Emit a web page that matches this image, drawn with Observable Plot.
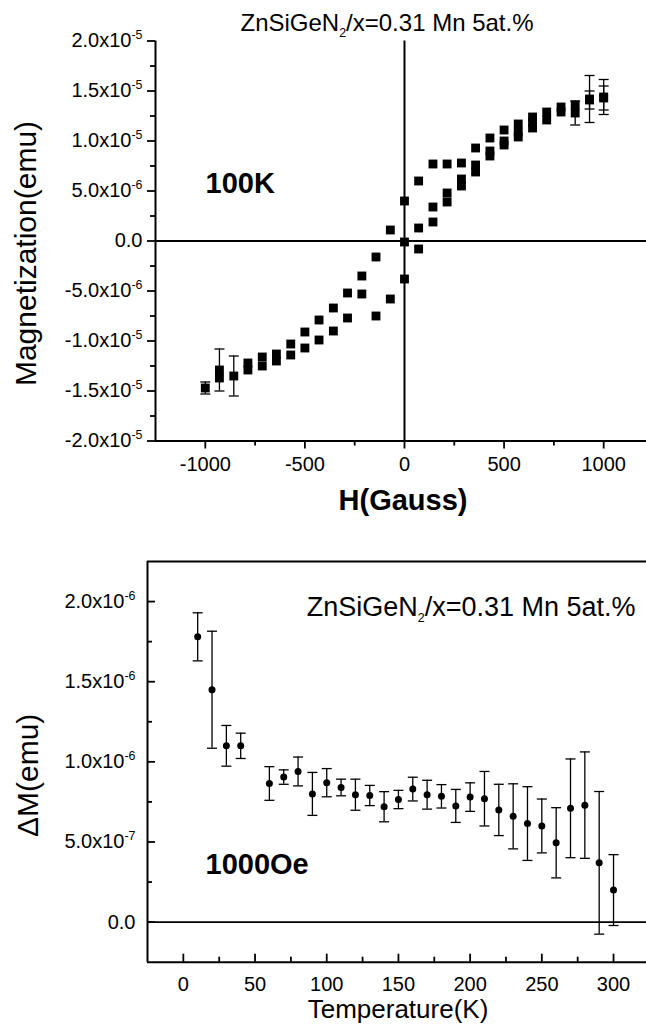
<!DOCTYPE html>
<html><head><meta charset="utf-8">
<script src="https://cdn.jsdelivr.net/npm/d3@7"></script>
<script src="https://cdn.jsdelivr.net/npm/@observablehq/plot@0.6"></script>
<style>
html,body{margin:0;padding:0;background:#fff;overflow:hidden;}
#wrap{width:646px;}
#wrap svg{display:block;max-width:none;}
</style></head><body><div id="wrap"></div>
<script>
const FONT = "'Liberation Sans', Arial, Helvetica, sans-serif";

// ---------- Top panel: hysteresis loop at 100K ----------
const topTitle = "ZnSiGeN_2/x=0.31 Mn 5at.%";
const fieldH = [
  -1000, -929, -929, -857, -786, -786, -714, -714, -643, -643, -571, -571, -500, -500,
  -429, -429, -357, -357, -286, -286, -214, -214, -143, -143, -71, -71,
  0, 0, 0, 71, 71, 71, 143, 143, 143, 214, 214, 214, 286, 286, 286,
  357, 357, 357, 429, 429, 429, 500, 500, 500, 571, 571, 571, 643, 643, 643,
  714, 714, 786, 786, 857, 857, 929, 929, 1000, 1000
];
const magnetization = [
  -14.7e-6, -12.9e-6, -13.7e-6, -13.5e-6, -12.2e-6, -12.9e-6, -11.6e-6, -12.5e-6, -11.3e-6, -12.0e-6, -10.3e-6, -11.4e-6, -9.1e-6, -10.7e-6,
  -7.9e-6, -9.9e-6, -6.7e-6, -9.0e-6, -5.2e-6, -7.7e-6, -3.5e-6, -5.3e-6, -1.6e-6, -7.5e-6, 1.1e-6, -5.8e-6,
  4.0e-6, -0.1e-6, -3.8e-6, 6.0e-6, 1.3e-6, -0.8e-6, 7.7e-6, 3.4e-6, 1.9e-6, 7.7e-6, 4.8e-6, 3.9e-6, 7.8e-6, 6.2e-6, 5.5e-6,
  9.3e-6, 7.6e-6, 6.9e-6, 10.3e-6, 9.0e-6, 8.5e-6, 11.1e-6, 10.0e-6, 9.6e-6, 11.7e-6, 10.9e-6, 10.4e-6, 12.4e-6, 11.9e-6, 11.3e-6,
  12.9e-6, 12.1e-6, 13.4e-6, 12.9e-6, 13.6e-6, 12.8e-6, 14.2e-6, 14.1e-6, 14.4e-6, 14.3e-6
];
const magnetErr = [
  0.6e-6, 2.1e-6, 0, 2.0e-6, 0, 0, 0, 0, 0, 0, 0, 0, 0, 0,
  0, 0, 0, 0, 0, 0, 0, 0, 0, 0, 0, 0,
  0, 0, 0, 0, 0, 0, 0, 0, 0, 0, 0, 0, 0, 0, 0,
  0, 0, 0, 0, 0, 0, 0, 0, 0, 0, 0, 0, 0, 0, 0,
  0, 0, 0, 0, 0, 1.2e-6, 2.35e-6, 0.9e-6, 1.75e-6, 1.2e-6
];
const topXTicks = [-1000, -500, 0, 500, 1000];
const topXTickLabels = ["-1000", "-500", "0", "500", "1000"];
const topXMinor = [-750, -250, 250, 750];
const topYTicks = [-2e-5, -1.5e-5, -1e-5, -5e-6, 0, 5e-6, 1e-5, 1.5e-5, 2e-5];
const topYTickLabels = ["-2.0x10^-5", "-1.5x10^-5", "-1.0x10^-5", "-5.0x10^-6", "0.0", "5.0x10^-6", "1.0x10^-5", "1.5x10^-5", "2.0x10^-5"];
const topYMinor = [-1.75e-5, -1.25e-5, -7.5e-6, -2.5e-6, 2.5e-6, 7.5e-6, 1.25e-5, 1.75e-5];

// ---------- Bottom panel: ΔM vs temperature at 1000 Oe ----------
const bottomNote = "ZnSiGeN_2/x=0.31 Mn 5at.%";
const temperature = [10, 20, 30, 40, 60, 70, 80, 90, 100, 110, 120, 130, 140, 150, 160, 170, 180, 190, 200, 210, 220, 230, 240, 250, 260, 270, 280, 290, 300];
const deltaM = [1.78e-6, 1.45e-6, 1.10e-6, 1.10e-6, 8.65e-7, 9.05e-7, 9.4e-7, 8.0e-7, 8.7e-7, 8.4e-7, 7.95e-7, 7.9e-7, 7.2e-7, 7.65e-7, 8.3e-7, 7.95e-7, 7.85e-7, 7.25e-7, 7.8e-7, 7.7e-7, 7.0e-7, 6.6e-7, 6.15e-7, 6.0e-7, 4.95e-7, 7.1e-7, 7.3e-7, 3.7e-7, 2.0e-7];
const deltaMErr = [1.5e-7, 3.65e-7, 1.27e-7, 0.79e-7, 1.05e-7, 0.45e-7, 0.9e-7, 1.34e-7, 0.88e-7, 0.52e-7, 0.97e-7, 0.63e-7, 0.94e-7, 0.57e-7, 0.74e-7, 0.9e-7, 0.73e-7, 1.03e-7, 0.89e-7, 1.7e-7, 1.6e-7, 2.03e-7, 2.3e-7, 1.68e-7, 2.19e-7, 3.08e-7, 3.32e-7, 4.45e-7, 2.21e-7];
const botXTicks = [0, 50, 100, 150, 200, 250, 300];
const botXTickLabels = ["0", "50", "100", "150", "200", "250", "300"];
const botXMinor = [25, 75, 125, 175, 225, 275];
const botYTicks = [0, 5e-7, 1e-6, 1.5e-6, 2e-6];
const botYTickLabels = ["0.0", "5.0x10^-7", "1.0x10^-6", "1.5x10^-6", "2.0x10^-6"];
const botYMinor = [2.5e-7, 7.5e-7, 1.25e-6, 1.75e-6];

// ---------- build tables ----------
const topData = fieldH.map((h, i) => ({h, m: magnetization[i], e: magnetErr[i]}));
const topErr = topData.filter(d => d.e > 0);
const botData = temperature.map((t, i) => ({t, m: deltaM[i], e: deltaMErr[i]}));
const fmt = (ticks, labels) => { const m = new Map(ticks.map((t, i) => [t, labels[i]])); return d => m.get(d) ?? ""; };
const capSymbol = {draw(ctx) { ctx.moveTo(-5, 0); ctx.lineTo(5, 0); }};

const baseStyle = {fontFamily: FONT, fontSize: "20px", color: "#000", background: "#fff", overflow: "visible"};

const topChart = Plot.plot({
  width: 646, height: 540,
  marginLeft: 155, marginRight: 0, marginTop: 40.5, marginBottom: 99.5,
  style: baseStyle,
  x: {domain: [-1250, 1215], axis: null},
  y: {domain: [-2e-5, 2e-5], axis: null},
  marks: [
    Plot.ruleY([0], {stroke: "#000", strokeWidth: 2}),
    Plot.ruleX([0], {stroke: "#000", strokeWidth: 2}),
    Plot.ruleX([-1250], {stroke: "#000", strokeWidth: 2}),
    Plot.ruleY([-2e-5], {stroke: "#000", strokeWidth: 2}),
    Plot.axisX({ticks: topXTicks, tickSize: 8, tickPadding: 8, strokeWidth: 1.8, tickFormat: fmt(topXTicks, topXTickLabels), label: null, fontSize: 20}),
    Plot.axisX({ticks: topXMinor, tickSize: 5, strokeWidth: 1.8, tickFormat: () => "", label: null}),
    Plot.axisY({ticks: topYTicks, tickSize: 8, tickPadding: 5, strokeWidth: 1.8, tickFormat: fmt(topYTicks, topYTickLabels), label: null, fontSize: 20}),
    Plot.axisY({ticks: topYMinor, tickSize: 5, strokeWidth: 1.8, tickFormat: () => "", label: null}),
    Plot.ruleX(topErr, {x: "h", y1: d => d.m - d.e, y2: d => d.m + d.e, stroke: "#000", strokeWidth: 1.3}),
    Plot.dot(topErr, {x: "h", y: d => d.m - d.e, symbol: capSymbol, stroke: "#000", strokeWidth: 1.3, fill: "none"}),
    Plot.dot(topErr, {x: "h", y: d => d.m + d.e, symbol: capSymbol, stroke: "#000", strokeWidth: 1.3, fill: "none"}),
    Plot.dot(topData, {x: "h", y: "m", symbol: "square", r: 5, fill: "#000", stroke: "none"}),
    Plot.text([topTitle], {frameAnchor: "top", dx: -14, dy: -18, lineAnchor: "middle", fontSize: 24}),
    Plot.text(["100K"], {frameAnchor: "top-left", dx: 50, dy: 142.5, lineAnchor: "middle", textAnchor: "start", fontSize: 29, fontWeight: "bold"}),
    Plot.text(["Magnetization(emu)"], {frameAnchor: "left", rotate: -90, dx: -129, dy: 12.5, textAnchor: "middle", lineAnchor: "middle", fontSize: 30}),
    Plot.text(["H(Gauss)"], {frameAnchor: "bottom", dx: 2, dy: 59.5, lineAnchor: "middle", textAnchor: "middle", fontSize: 29, fontWeight: "bold"})
  ]
});

const botPlotH = 490 - 21 - 68.3, botPlotW = 646 - 147;
const bottomChart = Plot.plot({
  width: 646, height: 490,
  marginLeft: 147, marginRight: 0, marginTop: 21, marginBottom: 68.3,
  style: baseStyle,
  x: {domain: [-25, 323], axis: null},
  y: {domain: [-2.5e-7, 2.25e-6], axis: null},
  marks: [
    Plot.ruleY([0], {stroke: "#000", strokeWidth: 1.8}),
    Plot.ruleX([-25], {stroke: "#000", strokeWidth: 2}),
    Plot.ruleY([-2.5e-7], {stroke: "#000", strokeWidth: 2}),
    Plot.ruleY([2.25e-6], {stroke: "#000", strokeWidth: 2}),
    Plot.tickX(botXTicks, {x: d => d, insetTop: botPlotH - 8, stroke: "#000", strokeWidth: 1.8}),
    Plot.tickX(botXMinor, {x: d => d, insetTop: botPlotH - 5, stroke: "#000", strokeWidth: 1.8}),
    Plot.tickY(botYTicks, {y: d => d, insetRight: botPlotW - 8, stroke: "#000", strokeWidth: 1.8}),
    Plot.tickY(botYMinor, {y: d => d, insetRight: botPlotW - 5, stroke: "#000", strokeWidth: 1.8}),
    Plot.axisX({ticks: botXTicks, tickSize: 0, tickPadding: 15, tickFormat: fmt(botXTicks, botXTickLabels), label: null, fontSize: 20}),
    Plot.axisY({ticks: botYTicks, tickSize: 0, tickPadding: 12, tickFormat: fmt(botYTicks, botYTickLabels), label: null, fontSize: 20}),
    Plot.ruleX(botData, {x: "t", y1: d => d.m - d.e, y2: d => d.m + d.e, stroke: "#000", strokeWidth: 1.3}),
    Plot.dot(botData, {x: "t", y: d => d.m - d.e, symbol: capSymbol, stroke: "#000", strokeWidth: 1.3, fill: "none"}),
    Plot.dot(botData, {x: "t", y: d => d.m + d.e, symbol: capSymbol, stroke: "#000", strokeWidth: 1.3, fill: "none"}),
    Plot.dot(botData, {x: "t", y: "m", r: 3.5, fill: "#000", stroke: "none"}),
    Plot.text([bottomNote], {frameAnchor: "top-right", dx: -11, dy: 45.5, lineAnchor: "middle", textAnchor: "end", fontSize: 27}),
    Plot.text(["1000Oe"], {frameAnchor: "top-left", dx: 58, dy: 303.5, lineAnchor: "middle", textAnchor: "start", fontSize: 29, fontWeight: "bold"}),
    Plot.text(["\u0394M(emu)"], {frameAnchor: "left", rotate: -90, dx: -119, dy: 13.5, textAnchor: "middle", lineAnchor: "middle", fontSize: 30}),
    Plot.text(["Temperature(K)"], {frameAnchor: "bottom", dx: 1, dy: 47.3, lineAnchor: "middle", textAnchor: "middle", fontSize: 26})
  ]
});

function richText(svg) {
  const NS = "http://www.w3.org/2000/svg";
  for (const t of svg.querySelectorAll("text")) {
    const s = t.textContent;
    if (!/[\^_]/.test(s)) continue;
    const fs = parseFloat(getComputedStyle(t).fontSize) || 20;
    const parts = s.split(/([\^_]-?\d+)/);
    t.textContent = "";
    let shift = 0;
    for (const p of parts) {
      if (!p) continue;
      const ts = document.createElementNS(NS, "tspan");
      let target = 0, txt = p;
      if (p[0] === "^") { target = -0.42 * fs; txt = p.slice(1); ts.setAttribute("font-size", (0.62 * fs).toFixed(1)); }
      else if (p[0] === "_") { target = 0.3 * fs; txt = p.slice(1); ts.setAttribute("font-size", (0.62 * fs).toFixed(1)); }
      ts.setAttribute("dy", (target - shift).toFixed(1));
      shift = target;
      ts.textContent = txt;
      t.appendChild(ts);
    }
  }
}
richText(topChart);
richText(bottomChart);
const wrap = document.getElementById("wrap");
wrap.appendChild(topChart);
wrap.appendChild(bottomChart);
</script>
</body></html>
